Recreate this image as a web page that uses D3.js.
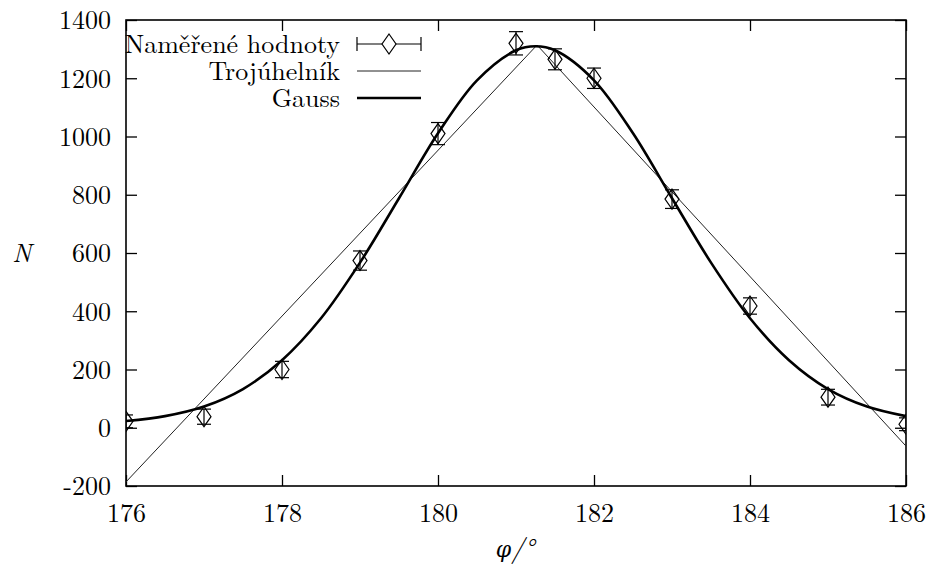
<!DOCTYPE html>
<html>
<head>
<meta charset="utf-8">
<script src="https://cdn.jsdelivr.net/npm/d3@7/dist/d3.min.js"></script>
<style>
html, body { margin: 0; padding: 0; background: #fff; }
svg { display: block; }
</style>
</head>
<body>
<svg id="chart" width="933" height="567"></svg>
<script>
// ---- data ----
const angles = [176, 177, 178, 179, 180, 181, 181.5, 182, 183, 184, 185, 186];
const counts = [22, 38, 200, 574, 1010, 1320, 1265, 1200, 785, 418, 105, 12];
const errors = [22, 26, 28, 33, 38, 40, 36, 35, 32, 28, 27, 22];

const triangleX = [176, 181.27, 186];
const triangleY = [-186, 1314, -63];

const gaussX = [176, 176.5, 177, 177.5, 178, 178.5, 179, 179.5, 180, 180.5, 181, 181.25,
                181.5, 182, 182.5, 183, 183.5, 184, 184.5, 185, 185.5, 186];
const gaussY = [23, 40, 73, 133, 232, 376, 567, 788, 1011, 1193, 1296, 1310,
                1296, 1193, 1011, 788, 567, 376, 232, 133, 73, 40];

const xTicks = [176, 178, 180, 182, 184, 186];
const yTicks = [-200, 0, 200, 400, 600, 800, 1000, 1200, 1400];

const legendLabels = ["Naměřené hodnoty", "Trojúhelník", "Gauss"];
const xLabelSymbol = "φ";
const xLabelUnit = "/°";
const yLabel = "N";

// ---- layout ----
const L = 126, R = 906, T = 20, B = 486;
const FONT = '"Latin Modern Roman", "CMU Serif", "DejaVu Serif", serif';
const svg = d3.select("#chart");
const x = d3.scaleLinear().domain([176, 186]).range([L, R]);
const y = d3.scaleLinear().domain([-200, 1400]).range([B, T]);

svg.append("defs").append("clipPath").attr("id", "clip")
  .append("rect").attr("x", L).attr("y", T).attr("width", R - L).attr("height", B - T);

const tickLen = 11;
const fs = 26;
const fmt = d => String(d);

const axB = svg.append("g").attr("transform", `translate(0,${B})`)
  .call(d3.axisBottom(x).tickValues(xTicks).tickSizeInner(-tickLen).tickSizeOuter(0).tickPadding(20).tickFormat(fmt));
const axT = svg.append("g").attr("transform", `translate(0,${T})`)
  .call(d3.axisTop(x).tickValues(xTicks).tickSizeInner(-tickLen).tickSizeOuter(0).tickFormat(""));
const axLft = svg.append("g").attr("transform", `translate(${L},0)`)
  .call(d3.axisLeft(y).tickValues(yTicks).tickSizeInner(-tickLen).tickSizeOuter(0).tickPadding(15).tickFormat(fmt));
const axRgt = svg.append("g").attr("transform", `translate(${R},0)`)
  .call(d3.axisRight(y).tickValues(yTicks).tickSizeInner(-tickLen).tickSizeOuter(0).tickFormat(""));

[axB, axT, axLft, axRgt].forEach(a => {
  a.attr("font-family", FONT).attr("font-size", fs);
  a.select(".domain").remove();
  a.selectAll(".tick line").attr("stroke", "#000").attr("stroke-width", 1.3);
  a.selectAll("text").attr("fill", "#000");
});
axB.selectAll("text").attr("dy", "0.6em");
axLft.selectAll("text").attr("dy", "0.34em");

// border
svg.append("rect").attr("x", L).attr("y", T).attr("width", R - L).attr("height", B - T)
  .attr("fill", "none").attr("stroke", "#000").attr("stroke-width", 1.6);

const plot = svg.append("g").attr("clip-path", "url(#clip)");

// triangle line
const triData = triangleX.map((d, i) => [d, triangleY[i]]);
plot.append("path").datum(triData)
  .attr("d", d3.line().x(d => x(d[0])).y(d => y(d[1])))
  .attr("fill", "none").attr("stroke", "#222").attr("stroke-width", 1);

// gauss curve
const gData = gaussX.map((d, i) => [d, gaussY[i]]);
plot.append("path").datum(gData)
  .attr("d", d3.line().curve(d3.curveCatmullRom.alpha(0.5)).x(d => x(d[0])).y(d => y(d[1])))
  .attr("fill", "none").attr("stroke", "#000").attr("stroke-width", 2.6);

// error bars + diamonds
const capW = 7, dW = 7, dH = 10;
function diamond(cx, cy) {
  return `M${cx},${cy - dH}L${cx + dW},${cy}L${cx},${cy + dH}L${cx - dW},${cy}Z`;
}
const pts = plot.append("g");
angles.forEach((a, i) => {
  const cx = x(a), cy = y(counts[i]);
  const y1 = y(counts[i] + errors[i]), y0 = y(counts[i] - errors[i]);
  pts.append("line").attr("x1", cx).attr("x2", cx).attr("y1", y1).attr("y2", y0).attr("stroke", "#000").attr("stroke-width", 1.2);
  pts.append("line").attr("x1", cx - capW).attr("x2", cx + capW).attr("y1", y1).attr("y2", y1).attr("stroke", "#000").attr("stroke-width", 1.2);
  pts.append("line").attr("x1", cx - capW).attr("x2", cx + capW).attr("y1", y0).attr("y2", y0).attr("stroke", "#000").attr("stroke-width", 1.2);
  pts.append("path").attr("d", diamond(cx, cy)).attr("fill", "none").attr("stroke", "#000").attr("stroke-width", 1.2);
});

// legend
const legRowsY = [44, 71, 98];
const legTextX = 340, legX0 = 357, legX1 = 421;
legendLabels.forEach((lab, i) => {
  svg.append("text").attr("x", legTextX).attr("y", legRowsY[i]).attr("dy", "0.34em")
    .attr("text-anchor", "end").attr("font-family", FONT).attr("font-size", fs)
    .text(lab);
});
{
  const yy = legRowsY[0], cx = (legX0 + legX1) / 2;
  svg.append("line").attr("x1", legX0).attr("x2", legX1).attr("y1", yy).attr("y2", yy).attr("stroke", "#000").attr("stroke-width", 1.2);
  svg.append("line").attr("x1", legX0).attr("x2", legX0).attr("y1", yy - 7).attr("y2", yy + 7).attr("stroke", "#000").attr("stroke-width", 1.2);
  svg.append("line").attr("x1", legX1).attr("x2", legX1).attr("y1", yy - 7).attr("y2", yy + 7).attr("stroke", "#000").attr("stroke-width", 1.2);
  svg.append("path").attr("d", diamond(cx, yy)).attr("fill", "#fff").attr("stroke", "#000").attr("stroke-width", 1.2);
}
svg.append("line").attr("x1", legX0).attr("x2", legX1).attr("y1", legRowsY[1]).attr("y2", legRowsY[1]).attr("stroke", "#222").attr("stroke-width", 1);
svg.append("line").attr("x1", legX0).attr("x2", legX1).attr("y1", legRowsY[2]).attr("y2", legRowsY[2]).attr("stroke", "#000").attr("stroke-width", 2.6);

// axis labels
svg.append("text").attr("x", 22).attr("y", 253).attr("dy", "0.34em").attr("text-anchor", "middle")
  .attr("font-family", FONT).attr("font-size", fs).attr("font-style", "italic").text(yLabel);
const xl = svg.append("text").attr("x", 515).attr("y", 557).attr("text-anchor", "middle")
  .attr("font-family", FONT).attr("font-size", fs);
xl.append("tspan").attr("font-family", '"DejaVu Serif"').attr("font-style", "italic")
  .attr("font-size", fs - 4).attr("font-weight", "normal").text(xLabelSymbol);
xl.append("tspan").attr("font-style", "italic").text(xLabelUnit);
</script>
</body>
</html>
